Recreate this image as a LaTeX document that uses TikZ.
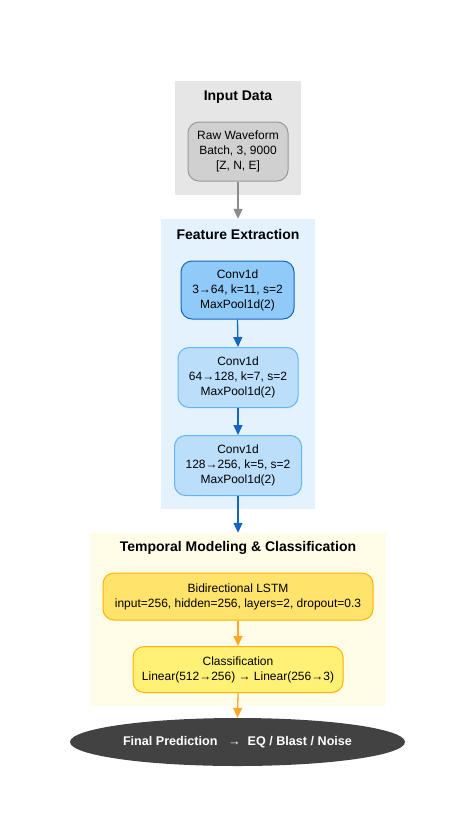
\documentclass[tikz,border=0pt]{standalone}
\usepackage{fontspec}
\setmainfont{Liberation Sans}
\usetikzlibrary{arrows.meta,shapes.geometric}
\definecolor{clgray}{HTML}{E6E6E6}
\definecolor{nodegray}{HTML}{D0D0D0}
\definecolor{bordergray}{HTML}{999999}
\definecolor{arrgray}{HTML}{8C8C8C}
\definecolor{clblue}{HTML}{E3F2FD}
\definecolor{blueA}{HTML}{90CAF9}
\definecolor{blueAb}{HTML}{1565C0}
\definecolor{blueB}{HTML}{BBDEFB}
\definecolor{blueBb}{HTML}{64B5F6}
\definecolor{arrblue}{HTML}{1565C0}
\definecolor{clyellow}{HTML}{FFFDE7}
\definecolor{yelA}{HTML}{FFE36B}
\definecolor{yelB}{HTML}{FFF176}
\definecolor{yelb}{HTML}{FFB300}
\definecolor{arrorange}{HTML}{FFA726}
\definecolor{darkell}{HTML}{424242}
\tikzset{
  cluster/.style={draw=none, rectangle, inner sep=0pt},
  ctitle/.style={font=\bfseries\fontsize{14}{16}\selectfont, text=black},
  box/.style={rectangle, rounded corners=11pt, line width=1pt, align=center,
     font=\fontsize{12}{15}\selectfont, inner sep=0pt},
  conn/.style={line width=1.3pt, -{Triangle[length=10pt,width=9pt]}},
}
\begin{document}
\begin{tikzpicture}[x=1pt,y=-1pt]
\fill[white] (0,0) rectangle (476,838);
\useasboundingbox (0,0) rectangle (476,838);
% clusters
\node[cluster, fill=clgray, minimum width=126pt, minimum height=114pt] (cin) at (238,138) {};
\node[cluster, fill=clblue, minimum width=154pt, minimum height=290pt] (cfe) at (238,364) {};
\node[cluster, fill=clyellow, minimum width=296pt, minimum height=173pt] (ctm) at (238,619.5) {};
\node[ctitle] (tin) at (238,97) {Input Data};
\node[ctitle] (tfe) at (238,234) {Feature Extraction};
\node[ctitle] (ttm) at (238,548) {Temporal Modeling \& Classification};
% nodes
\node[box, fill=nodegray, draw=bordergray, minimum width=100pt, minimum height=59pt] (raw) at (238,151.5)
  {Raw Waveform\\Batch, 3, 9000\\{[Z, N, E]}};
\node[box, fill=blueA, draw=blueAb, minimum width=113pt, minimum height=58pt] (c1) at (237.5,290)
  {Conv1d\\3→64, k=11, s=2\\MaxPool1d(2)};
\node[box, fill=blueB, draw=blueBb, minimum width=120pt, minimum height=60pt] (c2) at (238,377.5)
  {Conv1d\\64→128, k=7, s=2\\MaxPool1d(2)};
\node[box, fill=blueB, draw=blueBb, minimum width=127pt, minimum height=60pt] (c3) at (238,465.5)
  {Conv1d\\128→256, k=5, s=2\\MaxPool1d(2)};
\node[box, fill=yelA, draw=yelb, minimum width=270pt, minimum height=47pt] (lstm) at (238,596.5)
  {Bidirectional LSTM\\input=256, hidden=256, layers=2, dropout=0.3};
\node[box, fill=yelB, draw=yelb, minimum width=210pt, minimum height=46pt] (cls) at (238,669.5)
  {Classification\\Linear(512→256) → Linear(256→3)};
\node[ellipse, fill=darkell, draw=none, minimum width=335pt, minimum height=48pt, inner sep=0pt,
  text=white, font=\bfseries\fontsize{12.6}{14}\selectfont] (pred) at (237.5,742)
  {Final Prediction \ \ →\ \ EQ / Blast / Noise};
% connectors
\draw[conn, arrgray] (raw.south) -- (cfe.north);
\draw[conn, arrblue] (c1.south) -- (c2.north);
\draw[conn, arrblue] (c2.south) -- (c3.north);
\draw[conn, arrblue] (c3.south) -- (ctm.north);
\draw[conn, arrorange] (lstm.south) -- (cls.north);
\draw[conn, arrorange] (cls.south) -- (pred.north);
\end{tikzpicture}
\end{document}
